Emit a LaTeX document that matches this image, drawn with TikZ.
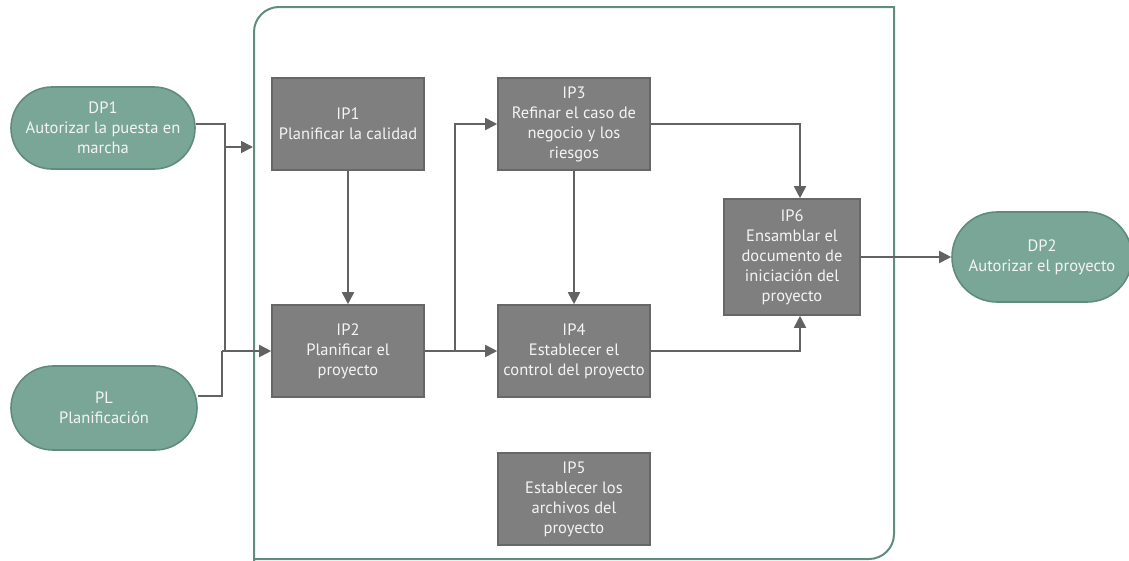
\documentclass[tikz,border=0pt]{standalone}
\usepackage{fontspec}
\setmainfont{PT Sans}
\usetikzlibrary{arrows.meta}
\definecolor{tealfill}{HTML}{7AA698}
\definecolor{tealline}{HTML}{5F8C7E}
\definecolor{boxfill}{HTML}{7F7F7F}
\definecolor{boxline}{HTML}{676767}
\definecolor{wire}{HTML}{626262}
\definecolor{label}{HTML}{F4F4F4}
\tikzset{
  stepbox/.style={draw=boxline, fill=boxfill, line width=1.6pt, text=label,
    align=center, inner sep=2pt, font=\fontsize{16.5}{20}\selectfont},
  terminal/.style={draw=tealline, fill=tealfill, line width=1.6pt, text=label,
    align=center, inner sep=2pt, font=\fontsize{16.5}{20}\selectfont},
  conn/.style={draw=wire, line width=1.8pt},
  flow/.style={conn, -{Triangle[length=12pt,width=12pt]}},
}
\begin{document}
\begin{tikzpicture}[x=1pt,y=-1pt]
\useasboundingbox (0,0) rectangle (1129,560);

% process frame
\draw[tealline, line width=2pt]
  (254,575) -- (254,32) arc[start angle=180, end angle=270, radius=25]
  -- (894,7) -- (894,534) arc[start angle=0, end angle=90, radius=25]
  -- (254,559) -- cycle;

% terminals
\node[terminal, minimum width=184pt, minimum height=82pt, rounded corners=41pt]
  (DP1) at (103,128) {DP1\\Autorizar la puesta en\\marcha};
\node[terminal, minimum width=186pt, minimum height=84pt, rounded corners=42pt]
  (PL) at (104,408) {PL\\Planificación};
\node[terminal, minimum width=180pt, minimum height=90pt, rounded corners=45pt]
  (DP2) at (1042,257) {DP2\\Autorizar el proyecto};

% process steps
\node[stepbox, minimum width=152pt, minimum height=92pt] (IP1) at (348,124)
  {IP1\\Planificar la calidad};
\node[stepbox, minimum width=152pt, minimum height=92pt] (IP2) at (348,351)
  {IP2\\Planificar el\\proyecto};
\node[stepbox, minimum width=152pt, minimum height=92pt] (IP3) at (574,124)
  {IP3\\Refinar el caso de\\negocio y los\\riesgos};
\node[stepbox, minimum width=152pt, minimum height=92pt] (IP4) at (574,351)
  {IP4\\Establecer el\\control del proyecto};
\node[stepbox, minimum width=152pt, minimum height=92pt] (IP5) at (574,499)
  {IP5\\Establecer los\\archivos del\\proyecto};
\node[stepbox, minimum width=136pt, minimum height=116pt] (IP6) at (792,257)
  {IP6\\Ensamblar el\\documento de\\iniciación del\\proyecto};

% junction points
\coordinate (jA) at (225,124);
\coordinate (jB) at (225,351);
\coordinate (jC) at (222,396);
\coordinate (jD) at (222,351);
\coordinate (jE) at (225,147);
\coordinate (frameIn) at (253,147);
\coordinate (jF) at (455,351);

% inputs
\draw[conn] ([yshift=4pt]DP1.east) -- (jA) -- (jB);
\draw[flow] (jE) -- (frameIn);
\draw[conn] ([yshift=12pt]PL.east) -- (jC) -- (jD);
\draw[flow] (jD) -- (IP2.west);

% internal flow
\draw[flow] (IP1.south) -- (IP2.north);
\draw[flow] (IP2.east) -- (IP4.west);
\draw[flow] (jF) |- (IP3.west);
\draw[flow] (IP3.south) -- (IP4.north);
\draw[flow] (IP3.east) -| ([xshift=8pt]IP6.north);
\draw[flow] (IP4.east) -| ([xshift=8pt]IP6.south);

% output
\draw[flow] (IP6.east) -- (DP2.west);
\end{tikzpicture}
\end{document}
